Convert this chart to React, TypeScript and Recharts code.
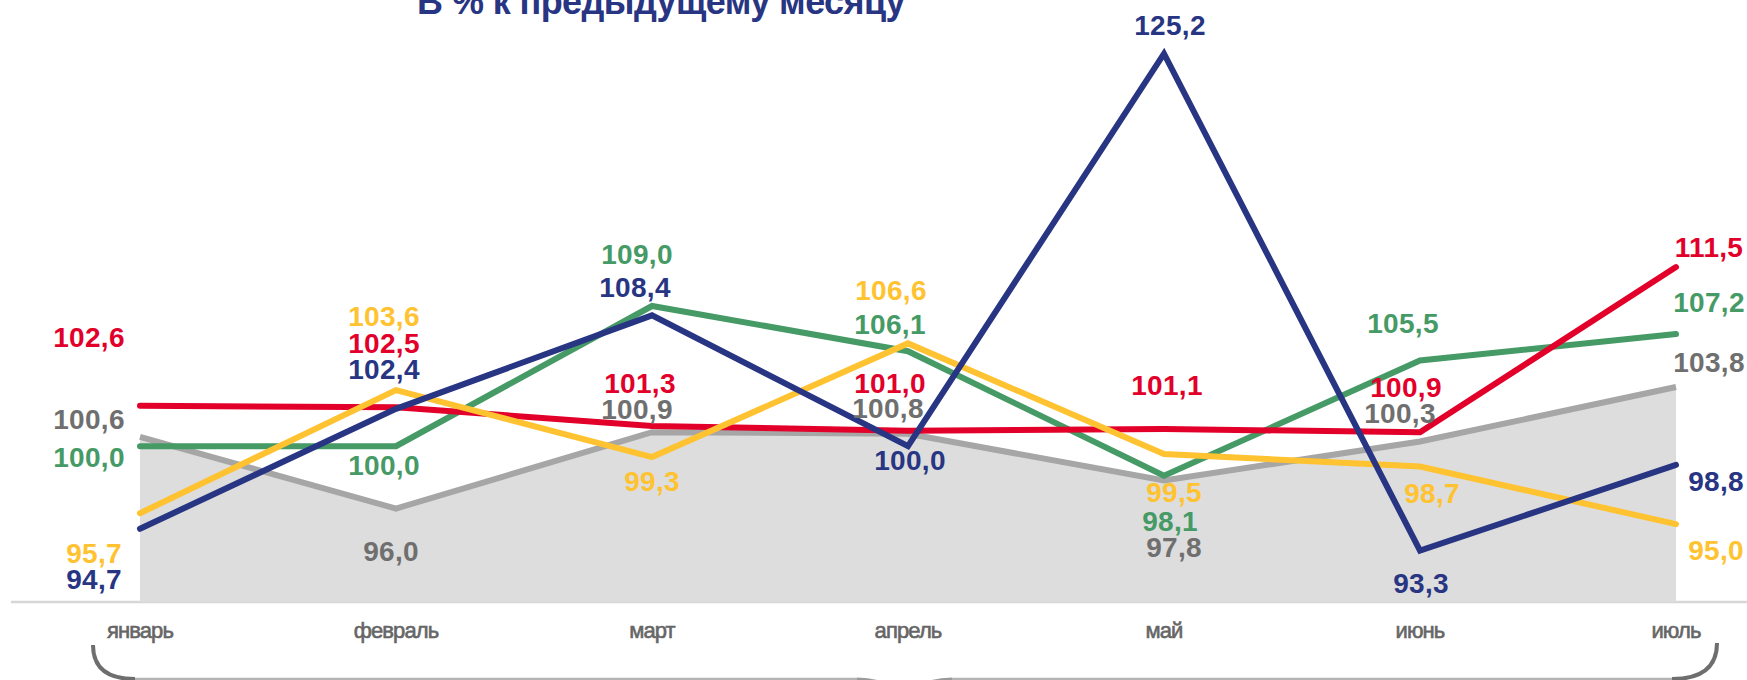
import React from "react";
import {
  Area, ComposedChart, Customized, LabelList, Line, XAxis, YAxis,
} from "recharts";

// месяцы и ряды (в % к предыдущему месяцу)
const months = ["январь", "февраль", "март", "апрель", "май", "июнь", "июль"];
const redVals = [102.6, 102.5, 101.3, 101.0, 101.1, 100.9, 111.5];
const greenVals = [100.0, 100.0, 109.0, 106.1, 98.1, 105.5, 107.2];
const blueVals = [94.7, 102.4, 108.4, 100.0, 125.2, 93.3, 98.8];
const yellowVals = [95.7, 103.6, 99.3, 106.6, 99.5, 98.7, 95.0];
const grayVals = [100.6, 96.0, 100.9, 100.8, 97.8, 100.3, 103.8];

// сдвиги подписей относительно точек
const redDx = [-51, -12, -12, -18, 3, -14, 33];
const redDy = [-68, -64, -42, -47, -44, -45, -20];
const greenDx = [-51, -12, -15, -18, 6, -17, 33];
const greenDy = [11, 19, -52, -27, 46, -37, -32];
const blueDx = [-46, -12, -17, 2, 6, 1, 40];
const blueDy = [51, -39, -28, 14, -28, 33, 17];
const yellowDx = [-46, -12, 0, -17, 10, 12, 40];
const yellowDy = [40, -74, 24, -53, 38, 27, 26];
const grayDx = [-51, -5, -15, -20, 10, -20, 33];
const grayDy = [-17, 43, -23, -25, 67, -28, -25];

const FONT = "'Liberation Sans', Arial, sans-serif";

const rows = months.map((m, i) => ({
  month: m,
  red: redVals[i],
  green: greenVals[i],
  blue: blueVals[i],
  yellow: yellowVals[i],
  gray: grayVals[i],
}));

const fmt = (v: number) => v.toFixed(1).replace(".", ",");

function makeLabel(color: string, dxs: number[], dys: number[]) {
  return (p: any) => {
    const { x, y, value, index } = p;
    if (x == null || y == null) return null;
    return (
      <text
        x={x + dxs[index]}
        y={y + dys[index]}
        fill={color}
        fontSize={28}
        fontWeight="bold"
        fontFamily={FONT}
        letterSpacing={0.3}
        textAnchor="middle"
        dominantBaseline="central"
      >
        {fmt(Number(value))}
      </text>
    );
  };
}

function MonthTick(p: any) {
  return (
    <text
      x={p.x}
      y={638}
      fill="#666666"
      stroke="#666666"
      strokeWidth={0.6}
      fontSize={22}
      fontFamily={FONT}
      letterSpacing={-0.9}
      textAnchor="middle"
    >
      {p.payload.value}
    </text>
  );
}

const Decor = (
  <g>
    <text
      x={661}
      y={14}
      fill="#283583"
      fontSize={36}
      fontWeight="bold"
      fontFamily={FONT}
      letterSpacing={-0.6}
      textAnchor="middle"
    >
      В % к предыдущему месяцу
    </text>
    <line x1={11} x2={1747} y1={602} y2={602} stroke="#D6D6D6" strokeWidth={2.5} />
    {/* фигурная скобка под месяцами */}
    <path d="M 135 679 L 857 679 M 952 679 L 1672 679" stroke="#B4B4B4" strokeWidth={2.5} fill="none" />
    <path d="M 93 645 Q 93 679 135 679" stroke="#6E6E6E" strokeWidth={4} fill="none" />
    <path d="M 857 679 Q 885 679 900 695" stroke="#9A9A9A" strokeWidth={3} fill="none" />
    <path d="M 952 679 Q 924 679 909 695" stroke="#9A9A9A" strokeWidth={3} fill="none" />
    <path d="M 1717 643 Q 1717 679 1672 679" stroke="#6E6E6E" strokeWidth={4} fill="none" />
  </g>
);

export default function App() {
  return (
    <div style={{ position: "absolute", left: 0, top: 0, width: 1747, height: 680, background: "#fff" }}>
      <ComposedChart
        width={1747}
        height={680}
        data={rows}
        margin={{ top: 10, right: 71, bottom: 0, left: 140 }}
      >
        <XAxis
          dataKey="month"
          height={78}
          axisLine={false}
          tickLine={false}
          interval={0}
          tick={<MonthTick />}
        />
        <YAxis hide domain={[90, 128]} />
        <Area
          dataKey="gray"
          type="linear"
          stroke="#A6A6A6"
          strokeWidth={6}
          fill="#DDDDDD"
          fillOpacity={1}
          baseValue={90}
          isAnimationActive={false}
        >
          <LabelList dataKey="gray" content={makeLabel("#6F6F6F", grayDx, grayDy)} />
        </Area>
        <Customized component={Decor} />
        <Line
          dataKey="green"
          stroke="#459A66"
          strokeWidth={6}
          strokeLinecap="round"
          dot={false}
          isAnimationActive={false}
        >
          <LabelList dataKey="green" content={makeLabel("#459A66", greenDx, greenDy)} />
        </Line>
        <Line
          dataKey="red"
          stroke="#E2002B"
          strokeWidth={6}
          strokeLinecap="round"
          dot={false}
          isAnimationActive={false}
        >
          <LabelList dataKey="red" content={makeLabel("#E2002B", redDx, redDy)} />
        </Line>
        <Line
          dataKey="yellow"
          stroke="#FFC230"
          strokeWidth={6}
          strokeLinecap="round"
          dot={false}
          isAnimationActive={false}
        >
          <LabelList dataKey="yellow" content={makeLabel("#FFC230", yellowDx, yellowDy)} />
        </Line>
        <Line
          dataKey="blue"
          stroke="#283583"
          strokeWidth={6}
          strokeLinecap="round"
          dot={false}
          isAnimationActive={false}
        >
          <LabelList dataKey="blue" content={makeLabel("#283583", blueDx, blueDy)} />
        </Line>
      </ComposedChart>
    </div>
  );
}
